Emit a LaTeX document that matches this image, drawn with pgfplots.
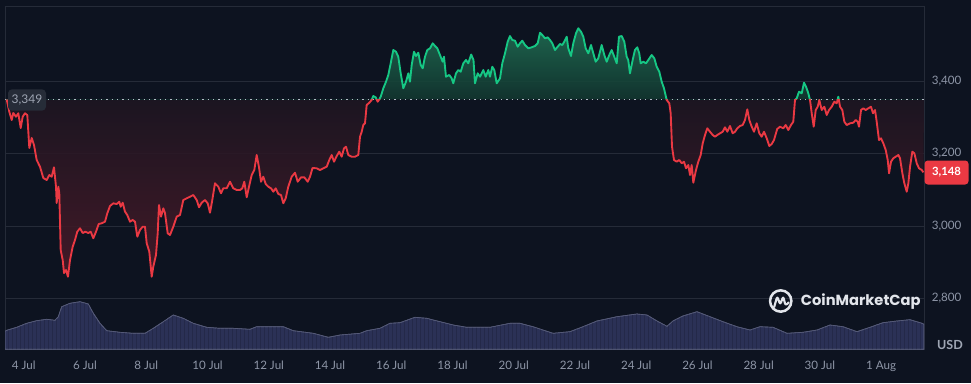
\documentclass[border=0pt]{standalone}
\usepackage{pgfplots}
\pgfplotsset{compat=1.18}
\usepackage{pgfplotstable}
\usetikzlibrary{backgrounds,patterns}
\usepackage{fontspec}
\setmainfont{Lato}
\newfontfamily\popfont{Poppins}

\definecolor{bgc}{HTML}{0D1320}
\definecolor{gridc}{HTML}{252B38}
\definecolor{tickc}{HTML}{8E96A7}
\definecolor{cmcred}{HTML}{EA3943}
\definecolor{cmcgreen}{HTML}{16C784}
\definecolor{volc}{HTML}{2B3156}
\definecolor{volstripe}{HTML}{242949}
\definecolor{dotc}{HTML}{B4BAC6}
\definecolor{lblbg}{HTML}{262C38}
\definecolor{lbltext}{HTML}{9EA5B3}
\definecolor{logoc}{HTML}{E2E5EB}
\definecolor{redDeep}{RGB}{74,26,40}
\definecolor{redTop}{RGB}{30,22,34}
\definecolor{grnBase}{RGB}{18,55,48}
\definecolor{grnTop}{RGB}{32,112,84}

\pgfdeclareverticalshading{cmcshade}{100bp}{color(0bp)=(redDeep); color(25bp)=(redDeep); color(60.6bp)=(redTop); color(60.7bp)=(grnBase); color(75bp)=(grnTop); color(100bp)=(grnTop)}

% price; the last row (29.399, 3349) only closes the shaded area back to the 3,349 baseline
\pgfplotstableread{
d p
-0.558 3349
-0.474 3315.3
-0.395 3292.4
-0.343 3311.7
-0.255 3301.5
-0.180 3310.9
-0.101 3270.3
-0.036 3301.5
0.039 3310.9
0.114 3306.2
0.180 3215.2
0.258 3242.8
0.333 3223.4
0.421 3182.1
0.529 3163.6
0.637 3132.4
0.748 3126.9
0.833 3140.7
0.911 3136.0
0.986 3161.9
1.052 3108.4
1.074 3063.5
1.127 3108.4
1.159 3091.0
1.205 2933.8
1.270 2906.2
1.313 2870.3
1.378 2878.6
1.443 2860.1
1.509 2906.2
1.597 2942.9
1.672 2961.4
1.747 2984.3
1.835 2993.7
1.924 2980.7
2.008 2984.3
2.106 2980.7
2.185 2984.3
2.270 2966.1
2.358 2984.3
2.446 3005.5
2.544 3007.5
2.652 3011.9
2.727 3035.0
2.815 3055.2
2.923 3062.6
3.034 3060.7
3.119 3067.0
3.165 3053.2
3.230 3064.3
3.305 3039.5
3.380 3030.3
3.468 3011.9
3.556 3016.6
3.632 3011.9
3.707 2970.5
3.795 2989.0
3.883 2998.1
3.958 2998.1
4.014 2952.3
4.099 2929.1
4.177 2860.1
4.229 2887.7
4.317 2920.0
4.373 2979.9
4.415 3057.9
4.481 3025.7
4.556 3048.8
4.611 3035.9
4.699 2979.9
4.775 2975.2
4.882 2998.1
4.993 3025.7
5.101 3030.3
5.209 3071.7
5.320 3076.4
5.428 3080.8
5.535 3085.5
5.647 3071.7
5.722 3051.6
5.810 3064.3
5.918 3071.7
6.006 3062.6
6.081 3036.7
6.156 3071.7
6.244 3117.8
6.352 3108.4
6.440 3090.2
6.515 3104.0
6.626 3104.0
6.734 3122.2
6.842 3104.0
6.953 3099.3
7.061 3099.3
7.136 3104.0
7.201 3122.2
7.280 3079.2
7.355 3108.4
7.443 3140.7
7.528 3154.5
7.606 3195.9
7.681 3161.9
7.747 3122.2
7.821 3136.0
7.900 3115.9
7.985 3108.4
8.073 3104.0
8.148 3094.6
8.227 3104.0
8.312 3088.3
8.400 3085.5
8.475 3062.6
8.553 3076.4
8.638 3108.4
8.749 3136.0
8.857 3147.0
8.945 3122.2
9.053 3134.3
9.161 3134.3
9.272 3122.2
9.347 3136.0
9.428 3160.0
9.566 3159.2
9.673 3154.5
9.781 3159.2
9.892 3163.6
9.977 3182.1
10.055 3195.9
10.131 3177.4
10.219 3193.1
10.304 3205.0
10.382 3191.2
10.457 3214.3
10.523 3218.8
10.598 3195.9
10.709 3191.2
10.817 3191.2
10.924 3195.9
10.980 3246.3
11.035 3260.1
11.087 3278.6
11.143 3283.3
11.198 3333.8
11.283 3340.1
11.361 3347.6
11.413 3358.6
11.492 3355.0
11.558 3342.9
11.610 3349.5
11.656 3356.7
11.741 3379.9
11.829 3398.1
11.904 3416.6
11.982 3448.8
12.067 3485.5
12.155 3480.8
12.230 3467.0
12.309 3421.2
12.394 3379.9
12.482 3398.1
12.557 3421.2
12.612 3398.1
12.668 3444.1
12.743 3480.8
12.808 3469.0
12.884 3478.1
12.962 3444.1
13.027 3435.0
13.102 3467.0
13.178 3485.5
13.266 3490.2
13.354 3504.0
13.429 3496.6
13.504 3490.2
13.592 3471.7
13.680 3453.2
13.723 3467.0
13.788 3411.9
13.896 3416.6
13.974 3407.4
14.026 3393.7
14.115 3421.2
14.190 3430.3
14.268 3425.7
14.353 3448.8
14.441 3457.9
14.516 3448.8
14.611 3473.1
14.686 3457.9
14.735 3393.7
14.824 3421.2
14.899 3411.9
15.006 3430.3
15.085 3411.9
15.170 3430.3
15.225 3411.9
15.300 3439.4
15.365 3430.3
15.444 3393.7
15.552 3407.4
15.627 3448.8
15.715 3476.4
15.803 3508.4
15.878 3524.1
15.953 3513.1
16.041 3511.2
16.129 3494.6
16.204 3504.0
16.280 3511.2
16.368 3499.3
16.476 3490.2
16.587 3493.0
16.695 3496.6
16.783 3504.0
16.858 3533.2
16.933 3526.9
17.021 3517.8
17.110 3520.5
17.185 3513.1
17.260 3504.0
17.348 3485.5
17.436 3494.6
17.511 3502.1
17.586 3499.3
17.652 3508.4
17.730 3522.2
17.782 3490.2
17.870 3469.0
17.945 3504.0
18.034 3531.6
18.109 3545.4
18.197 3536.0
18.272 3522.2
18.350 3490.2
18.436 3476.4
18.524 3499.3
18.599 3476.4
18.677 3453.2
18.762 3462.6
18.873 3499.3
18.958 3471.7
19.036 3453.2
19.121 3471.7
19.199 3485.5
19.284 3467.0
19.363 3448.8
19.438 3522.2
19.526 3524.1
19.611 3508.4
19.689 3467.0
19.740 3457.9
19.796 3421.2
19.884 3457.9
19.959 3485.5
20.035 3493.0
20.100 3476.4
20.146 3448.8
20.231 3453.2
20.320 3448.8
20.395 3457.9
20.506 3471.7
20.591 3462.6
20.669 3439.4
20.754 3425.7
20.832 3398.1
20.907 3379.9
20.996 3347.6
21.081 3338.5
21.126 3310.9
21.169 3218.8
21.234 3182.1
21.322 3177.4
21.407 3182.1
21.486 3173.0
21.561 3177.4
21.626 3159.2
21.701 3168.3
21.757 3140.7
21.812 3168.3
21.865 3119.5
21.953 3154.5
22.028 3177.4
22.106 3195.9
22.172 3228.1
22.247 3251.0
22.322 3269.5
22.410 3260.1
22.498 3251.0
22.573 3246.3
22.648 3251.0
22.737 3255.7
22.825 3260.1
22.900 3272.3
22.975 3260.1
23.063 3275.9
23.151 3255.7
23.226 3260.1
23.301 3269.5
23.389 3275.9
23.478 3278.6
23.553 3292.4
23.628 3321.9
23.694 3292.4
23.772 3273.9
23.847 3260.1
23.935 3283.3
24.020 3255.7
24.098 3246.3
24.174 3260.1
24.262 3241.9
24.347 3220.7
24.425 3226.2
24.500 3237.2
24.605 3267.6
24.696 3273.9
24.804 3269.5
24.882 3278.6
24.967 3264.8
25.055 3278.6
25.130 3287.7
25.186 3347.6
25.242 3352.3
25.317 3370.5
25.405 3366.1
25.480 3395.3
25.546 3384.3
25.621 3366.1
25.676 3347.6
25.732 3310.9
25.797 3273.9
25.863 3320.0
25.928 3329.1
25.980 3347.6
26.059 3320.0
26.143 3329.1
26.222 3306.2
26.297 3320.0
26.385 3329.1
26.470 3342.9
26.549 3338.5
26.601 3356.7
26.656 3329.1
26.731 3320.0
26.797 3287.7
26.875 3278.6
26.983 3283.3
27.090 3285.0
27.169 3292.4
27.234 3287.7
27.276 3273.9
27.342 3320.0
27.417 3324.7
27.495 3320.0
27.580 3324.7
27.668 3329.1
27.733 3310.9
27.799 3320.0
27.854 3287.7
27.929 3237.2
27.995 3241.9
28.070 3228.1
28.149 3209.7
28.214 3182.1
28.257 3145.4
28.322 3177.4
28.397 3186.8
28.476 3191.2
28.561 3195.9
28.616 3186.8
28.692 3145.4
28.757 3117.8
28.835 3094.6
28.888 3117.8
28.943 3163.6
29.017 3205.0
29.083 3200.6
29.161 3173.0
29.236 3159.2
29.325 3154.5
29.380 3148.0
29.399 3349
}\price

% trading volume, drawn in the strip at the foot of the price scale (top of each band, in price-scale units)
\pgfplotstableread{
d v
-0.614 2709.6
-0.558 2712.3
-0.232 2720.6
0.095 2731.6
0.421 2738.8
0.748 2742.7
1.019 2739.9
1.127 2749.8
1.238 2777.4
1.509 2786.8
1.835 2791.2
2.106 2784.9
2.270 2759.2
2.488 2731.6
2.707 2711.2
3.142 2706.8
3.576 2704.0
3.958 2704.0
4.229 2717.8
4.556 2736.0
4.882 2754.5
5.209 2745.4
5.535 2731.6
5.973 2720.6
6.407 2717.8
6.842 2717.8
7.387 2715.1
7.606 2722.2
8.475 2722.2
8.801 2711.2
9.454 2704.0
9.944 2693.0
10.327 2699.3
10.980 2704.0
11.198 2711.2
11.633 2717.8
11.960 2731.6
12.286 2733.3
12.776 2748.2
13.158 2745.4
13.592 2736.0
14.027 2726.9
14.463 2720.6
15.225 2720.6
15.878 2731.6
16.204 2731.6
16.629 2722.2
17.282 2704.0
17.837 2708.5
18.262 2722.2
18.719 2738.0
19.372 2749.8
20.025 2757.3
20.352 2754.5
20.679 2738.0
21.005 2723.3
21.201 2738.0
21.528 2751.8
21.985 2763.6
22.410 2749.8
22.834 2736.0
23.291 2722.2
23.716 2713.1
24.043 2722.2
24.467 2720.6
24.925 2704.0
25.447 2706.8
25.904 2713.1
26.329 2726.9
26.753 2722.2
27.211 2708.5
27.635 2720.6
28.060 2733.3
28.517 2738.0
28.942 2741.6
29.334 2731.6
29.399 2728.9
}\vol

\begin{document}
\begin{tikzpicture}[x=0.75pt,y=0.75pt]
\begin{axis}[scale only axis,
  width=689.25pt, height=256.95pt,
  xmin=-0.614, xmax=29.399, ymin=2659.9, ymax=3605,
  clip bounding box=upper bound,
  axis line style={draw=gridc, line width=0.7pt},
  ytick={2800,3000,3200,3400},
  ymajorgrids, grid style={draw=gridc, line width=0.7pt},
  yticklabel pos=right,
  yticklabel style={anchor=west, xshift=2.3pt},
  xtick={0,2,...,28},
  xticklabels={4 Jul,6 Jul,8 Jul,10 Jul,12 Jul,14 Jul,16 Jul,18 Jul,20 Jul,22 Jul,24 Jul,26 Jul,28 Jul,30 Jul,1 Aug},
  xticklabel style={anchor=center, yshift=-11.8pt, text height=6.2pt, text depth=0pt},
  major tick length=0pt,
  tick label style={font=\fontsize{8.7}{10}\selectfont, text=tickc},
  /pgf/number format/1000 sep={,},
  /pgf/number format/assume math mode=true]
% volume
\addplot[fill=volc, draw=volc!80!white, line width=0.5pt,
  postaction={pattern=vertical lines, pattern color=volstripe}] table {\vol} \closedcycle;
% shaded area between price and the 3,349 baseline
\addplot[draw=none, shading=cmcshade, fill opacity=0.88] table {\price};
% baseline
\addplot[dotc, line width=0.9pt, dash pattern=on 0.9pt off 3.1pt] coordinates {(-0.614,3349) (29.399,3349)};
% price line, green above and red below 3,349
\begin{scope}
\clip (axis cs:-0.614,3349) rectangle (axis cs:29.399,3605);
\addplot[cmcgreen, line width=1.4pt, line join=round, restrict x to domain=-1:29.39] table {\price};
\end{scope}
\begin{scope}
\clip (axis cs:-0.614,2659.9) rectangle (axis cs:29.399,3349);
\addplot[cmcred, line width=1.4pt, line join=round, restrict x to domain=-1:29.39] table {\price};
\end{scope}
\coordinate (c0) at (rel axis cs:0,0);
\end{axis}

\begin{scope}[shift={(c0)}, xshift=-3.75pt, yshift=-25.275pt]
\begin{pgfonlayer}{background}
\fill[bgc] (0,0) rectangle (971,383);
\end{pgfonlayer}

\node[fill=lblbg, rounded corners=3pt, text=lbltext, font=\fontsize{9}{10}\selectfont, minimum width=28.5pt, minimum height=16pt, inner sep=1pt] at (27,283) {3,349};

\node[fill=cmcred, rounded corners=2.5pt, text=white, font=\bfseries\fontsize{8.5}{9}\selectfont, minimum width=33pt, minimum height=18pt, inner sep=1pt] at (946.5,210.5) {3,148};

\node[text=tickc!85!white, font=\bfseries\fontsize{9.4}{10}\selectfont, inner sep=0pt] at (950,38) {USD};

\draw[logoc, line width=1.9pt] (780.7,82) circle (8pt);
\draw[logoc, line width=1.6pt, line cap=round, line join=round, rounded corners=1.6pt]
  (774.2,76) -- (777.2,86.5) -- (780.2,78.5) -- (783.2,86.5) -- (785.5,77.5) -- (788.7,80.5);
\node[anchor=west, text=logoc, font=\popfont\bfseries\fontsize{11}{12}\selectfont, inner sep=0pt] at (800.7,81.5) {CoinMarketCap};
\end{scope}
\end{tikzpicture}
\end{document}
